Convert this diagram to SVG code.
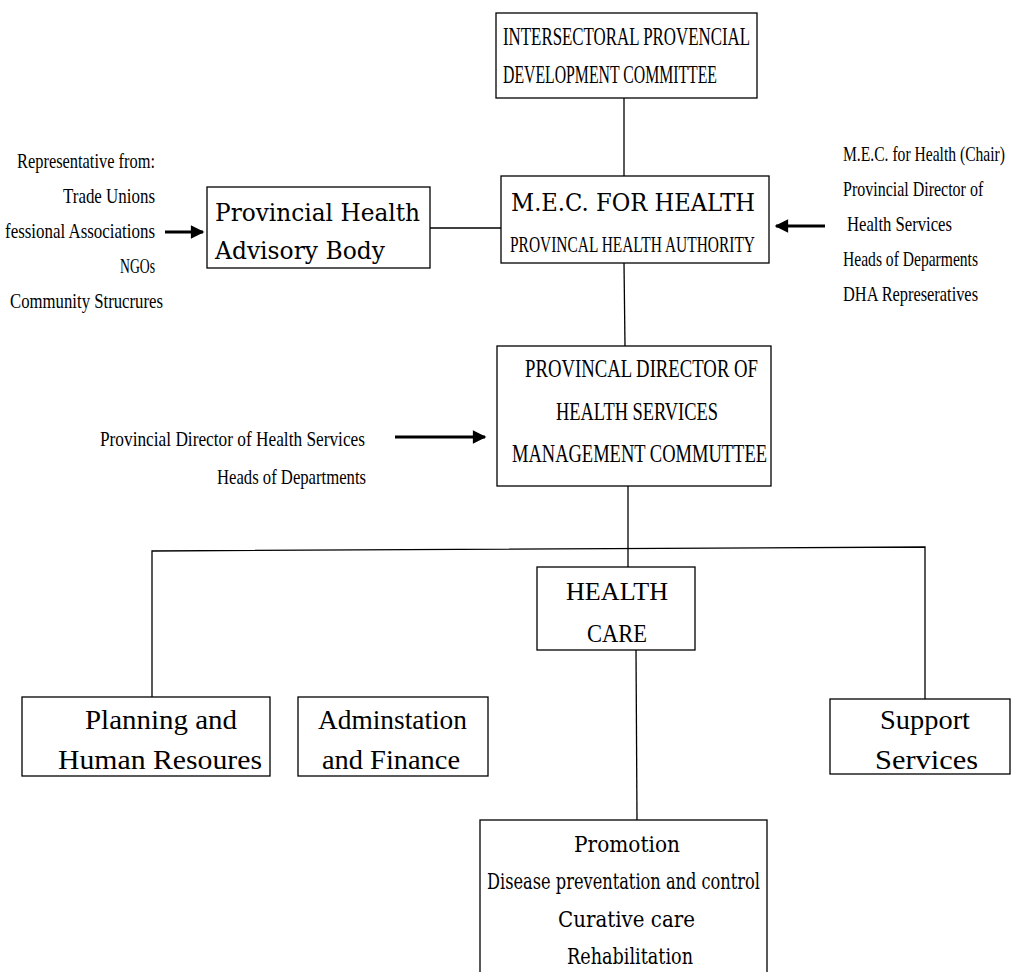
<svg xmlns="http://www.w3.org/2000/svg" width="1016" height="972" viewBox="0 0 1016 972">
<defs>
<marker id="ah" viewBox="0 0 10 10" refX="9" refY="5" markerWidth="5" markerHeight="4.5" orient="auto" markerUnits="strokeWidth">
<path d="M0,0 L10,5 L0,10 z" fill="#000"/>
</marker>
<style>
.box{fill:#fff;stroke:#000;stroke-width:1.3}
.c{font-family:"Liberation Serif","Times New Roman",serif;fill:#000}
.w{font-family:"DejaVu Serif","Liberation Serif",serif;fill:#000}
.ln{stroke:#000;stroke-width:1.3;fill:none}
.ar{stroke:#000;stroke-width:3;fill:none}
</style>
</defs>
<rect width="1016" height="972" fill="#fff"/>
<g id="connectors">
<line class="ln" x1="624" y1="98" x2="624" y2="176"/>
<line class="ln" x1="430" y1="228" x2="501" y2="228"/>
<line class="ln" x1="624" y1="263" x2="625" y2="346"/>
<line class="ln" x1="628" y1="486" x2="628" y2="567"/>
<polyline class="ln" points="152,697 152,551 925,547 925,699"/>
<line class="ln" x1="636" y1="650" x2="637" y2="820"/>
<line class="ar" x1="165" y1="232" x2="203" y2="232" marker-end="url(#ah)"/>
<line class="ar" x1="825" y1="226" x2="776" y2="226" marker-end="url(#ah)"/>
<line class="ar" x1="395" y1="437" x2="485" y2="437" marker-end="url(#ah)"/>
</g>
<g id="n-intersectoral">
<rect class="box" x="496" y="13" width="261" height="85"/>
<text class="c" x="503" y="45" font-size="25" textLength="247" lengthAdjust="spacingAndGlyphs">INTERSECTORAL PROVENCIAL</text>
<text class="c" x="503" y="83" font-size="25" textLength="214" lengthAdjust="spacingAndGlyphs">DEVELOPMENT COMMITTEE</text>
</g>
<g id="n-mec">
<rect class="box" x="501" y="176" width="268" height="87"/>
<text class="w" x="511" y="211" font-size="24" textLength="244" lengthAdjust="spacingAndGlyphs">M.E.C. FOR HEALTH</text>
<text class="c" x="510" y="252" font-size="23" textLength="245" lengthAdjust="spacingAndGlyphs">PROVINCAL HEALTH AUTHORITY</text>
</g>
<g id="n-advisory">
<rect class="box" x="207" y="187" width="223" height="81"/>
<text class="w" x="215" y="221" font-size="24" textLength="205" lengthAdjust="spacingAndGlyphs">Provincial Health</text>
<text class="w" x="215" y="259" font-size="24" textLength="170" lengthAdjust="spacingAndGlyphs">Advisory Body</text>
</g>
<g id="t-left" class="c" font-size="22" text-anchor="end">
<text x="155" y="168" textLength="138" lengthAdjust="spacingAndGlyphs">Representative from:</text>
<text x="155" y="203" textLength="92" lengthAdjust="spacingAndGlyphs">Trade Unions</text>
<text x="155" y="238" textLength="150" lengthAdjust="spacingAndGlyphs">fessional Associations</text>
<text x="155" y="273" textLength="35" lengthAdjust="spacingAndGlyphs">NGOs</text>
<text x="163" y="308" textLength="153" lengthAdjust="spacingAndGlyphs">Community Strucrures</text>
</g>
<g id="t-right" class="c" font-size="21">
<text transform="translate(843,161) scale(0.75,1)" x="0" y="0" textLength="216" lengthAdjust="spacingAndGlyphs">M.E.C. for Health (Chair)</text>
<text transform="translate(843,196) scale(0.75,1)" x="0" y="0" textLength="187" lengthAdjust="spacingAndGlyphs">Provincial Director of</text>
<text transform="translate(847,231) scale(0.75,1)" x="0" y="0" textLength="140" lengthAdjust="spacingAndGlyphs">Health Services</text>
<text transform="translate(843,266) scale(0.75,1)" x="0" y="0" textLength="180" lengthAdjust="spacingAndGlyphs">Heads of Deparments</text>
<text transform="translate(843,301) scale(0.75,1)" x="0" y="0" textLength="180" lengthAdjust="spacingAndGlyphs">DHA Represeratives</text>
</g>
<g id="n-director">
<rect class="box" x="497" y="346" width="274" height="140"/>
<text class="c" x="525" y="377" font-size="25" textLength="233" lengthAdjust="spacingAndGlyphs">PROVINCAL DIRECTOR OF</text>
<text class="c" x="556" y="420" font-size="25" textLength="162" lengthAdjust="spacingAndGlyphs">HEALTH SERVICES</text>
<text class="c" x="512" y="462" font-size="25" textLength="255" lengthAdjust="spacingAndGlyphs">MANAGEMENT COMMUTTEE</text>
</g>
<g id="t-director-members" class="c" font-size="22">
<text x="100" y="446" textLength="265" lengthAdjust="spacingAndGlyphs">Provincial Director of Health Services</text>
<text x="217" y="484" textLength="149" lengthAdjust="spacingAndGlyphs">Heads of Departments</text>
</g>
<g id="n-healthcare">
<rect class="box" x="537" y="567" width="158" height="83"/>
<text class="c" x="566" y="600" font-size="25" textLength="102" lengthAdjust="spacingAndGlyphs">HEALTH</text>
<text class="c" x="587" y="642" font-size="25" textLength="60" lengthAdjust="spacingAndGlyphs">CARE</text>
</g>
<g id="n-planning">
<rect class="box" x="22" y="697" width="248" height="79"/>
<text class="c" x="85" y="729" font-size="28" textLength="152" lengthAdjust="spacingAndGlyphs">Planning and</text>
<text class="c" x="58" y="769" font-size="28" textLength="204" lengthAdjust="spacingAndGlyphs">Human Resoures</text>
</g>
<g id="n-admin">
<rect class="box" x="298" y="697" width="190" height="79"/>
<text class="c" x="318" y="729" font-size="28" textLength="149" lengthAdjust="spacingAndGlyphs">Adminstation</text>
<text class="c" x="322" y="769" font-size="28" textLength="138" lengthAdjust="spacingAndGlyphs">and Finance</text>
</g>
<g id="n-support">
<rect class="box" x="830" y="699" width="180" height="75"/>
<text class="c" x="880" y="729" font-size="28" textLength="90" lengthAdjust="spacingAndGlyphs">Support</text>
<text class="c" x="875" y="769" font-size="28" textLength="103" lengthAdjust="spacingAndGlyphs">Services</text>
</g>
<g id="n-services">
<rect class="box" x="480" y="820" width="287" height="160"/>
<text class="w" x="574" y="852" font-size="22" textLength="106" lengthAdjust="spacingAndGlyphs">Promotion</text>
<text class="w" x="487" y="889" font-size="22" textLength="273" lengthAdjust="spacingAndGlyphs">Disease preventation and control</text>
<text class="w" x="558" y="927" font-size="22" textLength="137" lengthAdjust="spacingAndGlyphs">Curative care</text>
<text class="w" x="567" y="964" font-size="22" textLength="126" lengthAdjust="spacingAndGlyphs">Rehabilitation</text>
</g>
</svg>
